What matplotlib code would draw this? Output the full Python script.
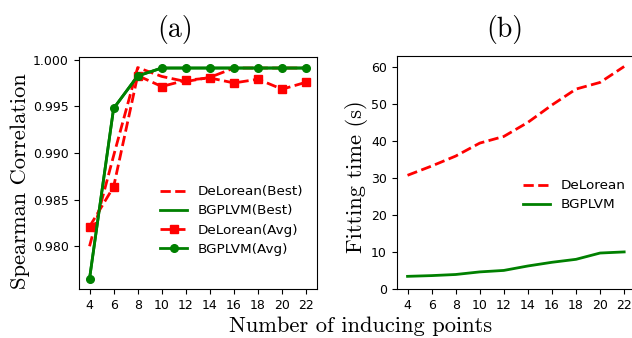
import numpy as np
from matplotlib import pyplot as plt

# number of inducing points
inducing = [4, 6, 8, 10, 12, 14, 16, 18, 20, 22]

# (a) Spearman correlation
delorean_best = [0.9800, 0.9897, 0.99915, 0.9982, 0.99765, 0.9981, 0.9991, 0.9991, 0.9991, 0.9991]
bgplvm_best = [0.97652, 0.99477, 0.99825, 0.9991, 0.9991, 0.9991, 0.9991, 0.9991, 0.9991, 0.9991]
delorean_avg = [0.9821, 0.98637, 0.99829, 0.99712, 0.99779, 0.99804, 0.9975, 0.9979, 0.99683, 0.99758]
bgplvm_avg = [0.97652, 0.99477, 0.99825, 0.9991, 0.9991, 0.9991, 0.9991, 0.9991, 0.9991, 0.9991]

# (b) fitting time in seconds
delorean_time = [30.8, 33.3, 36.0, 39.5, 41.3, 45.1, 49.8, 54.1, 55.9, 60.2]
bgplvm_time = [3.5, 3.7, 4.0, 4.7, 5.1, 6.3, 7.3, 8.1, 9.8, 10.1]

serif = 'cmr10'
W, H = 632, 338

fig = plt.figure(figsize=(6.32, 3.38), dpi=100)

def px_axes(x0, y0, x1, y1):
    # axes from pixel box (top-left origin)
    return fig.add_axes([x0 / W, 1 - y1 / H, (x1 - x0) / W, (y1 - y0) / H])

# ---- panel (a)
ax1 = px_axes(78.7, 57, 317, 289.3)
ax1.plot(inducing, delorean_best, '--', color='r', lw=2, label='DeLorean(Best)')
ax1.plot(inducing, bgplvm_best, '-', color='g', lw=2, label='BGPLVM(Best)')
ax1.plot(inducing, delorean_avg, '--', color='r', lw=2, marker='s', ms=5.5, label='DeLorean(Avg)')
ax1.plot(inducing, bgplvm_avg, '-', color='g', lw=2, marker='o', ms=5.5, label='BGPLVM(Avg)')
ax1.set_xticks(inducing)
ax1.set_yticks([0.980, 0.985, 0.990, 0.995, 1.000])
ax1.ticklabel_format(axis='y', useOffset=False)
ax1.tick_params(labelsize=9)
ax1.legend(loc='upper left', bbox_to_anchor=(155 / W, 1 - 180 / H), bbox_transform=fig.transFigure,
           frameon=False, fontsize=9.7, borderaxespad=0, labelspacing=0.45)

# ---- panel (b)
ax2 = px_axes(396.7, 56, 635, 289.3)
ax2.plot(inducing, delorean_time, '--', color='r', lw=2, label='DeLorean')
ax2.plot(inducing, bgplvm_time, '-', color='g', lw=2, label='BGPLVM')
ax2.set_xticks(inducing)
ax2.set_ylim(bottom=0)
ax2.set_yticks(range(0, 61, 10))
ax2.tick_params(labelsize=9)
ax2.legend(loc='upper left', bbox_to_anchor=(518 / W, 1 - 174 / H), bbox_transform=fig.transFigure,
           frameon=False, fontsize=9.7, borderaxespad=0, labelspacing=0.45)

# titles and axis labels (serif, LaTeX look)
fig.text(175 / W, 1 - 30 / H, '(a)', fontsize=20, family=serif, ha='center', va='center')
fig.text(504.5 / W, 1 - 30 / H, '(b)', fontsize=20, family=serif, ha='center', va='center')
fig.text(20 / W, 1 - 181 / H, 'Spearman Correlation', fontsize=16.2, family=serif,
         rotation=90, ha='center', va='center')
fig.text(357 / W, 1 - 176.5 / H, 'Fitting time (s)', fontsize=16.2, family=serif,
         rotation=90, ha='center', va='center')
fig.text(361 / W, 1 - 326 / H, 'Number of inducing points', fontsize=16.2, family=serif,
         ha='center', va='center')

plt.savefig('out.png', dpi=100)
